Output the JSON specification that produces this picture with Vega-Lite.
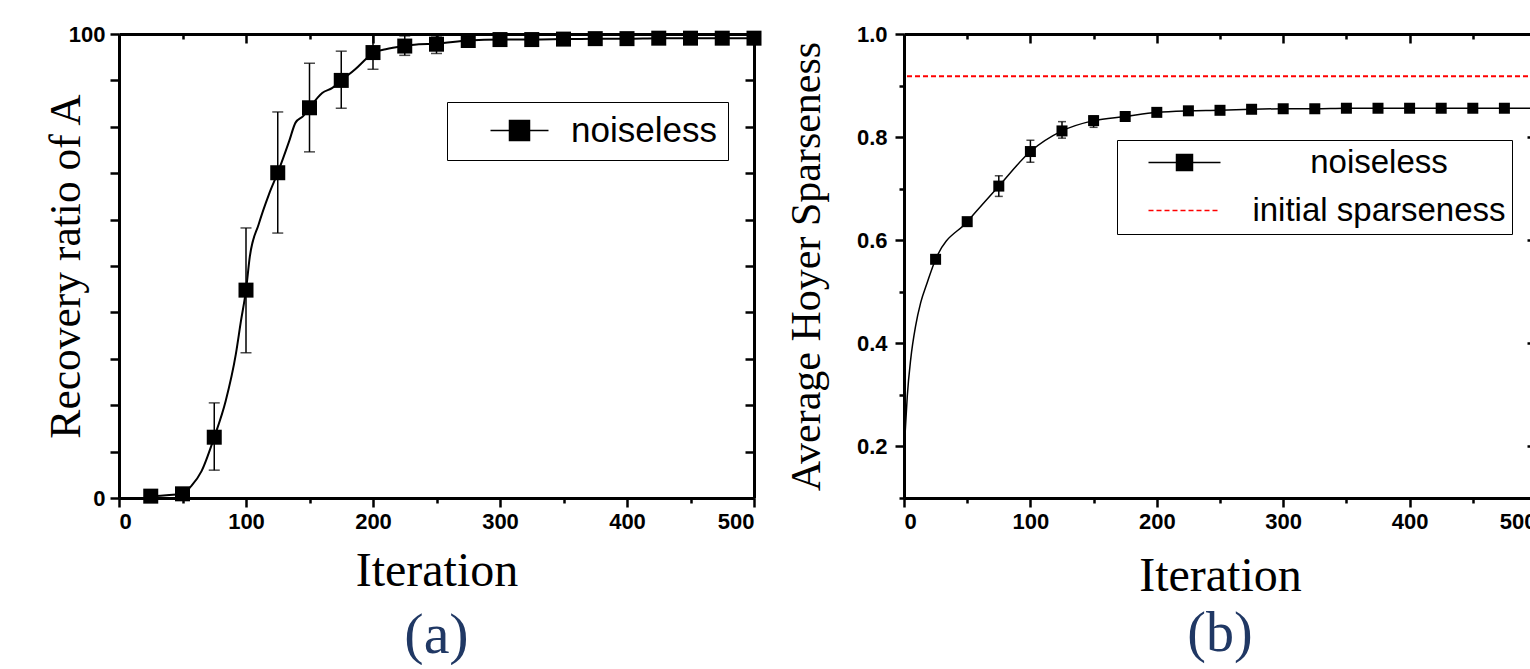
{
  "$schema": "https://vega.github.io/schema/vega-lite/v6.json",
  "background": "white",
  "padding": {"left": 44, "top": 23, "right": 0, "bottom": 0},
  "spacing": 23,
  "resolve": {"scale": {"shape": "independent", "stroke": "independent"}, "legend": {"shape": "independent", "stroke": "independent"}},
  "config": {
    "view": {"stroke": null},
    "axis": {
      "grid": false,
      "domainColor": "black",
      "domainWidth": 3,
      "tickColor": "black",
      "tickWidth": 2.5,
      "labelFont": "Liberation Sans",
      "labelFontWeight": "bold",
      "labelFontSize": 22,
      "labelColor": "black",
      "titleFont": "Liberation Serif",
      "titleFontWeight": "normal",
      "titleColor": "black"
    }
  },
  "datasets": {
    "a_pts": [
      {"it": 25, "val": 0.4}, {"it": 50, "val": 0.9}, {"it": 75, "val": 13.1}, {"it": 100, "val": 44.8},
      {"it": 125, "val": 70.1}, {"it": 150, "val": 84.1}, {"it": 175, "val": 90.0}, {"it": 200, "val": 96.0},
      {"it": 225, "val": 97.4}, {"it": 250, "val": 97.8}, {"it": 275, "val": 98.6}, {"it": 300, "val": 98.8},
      {"it": 325, "val": 98.8}, {"it": 350, "val": 98.9}, {"it": 375, "val": 99.0}, {"it": 400, "val": 99.0},
      {"it": 425, "val": 99.1}, {"it": 450, "val": 99.1}, {"it": 475, "val": 99.1}, {"it": 500, "val": 99.1}
    ],
    "a_err": [
      {"it": 75, "lo": 6.0, "hi": 20.5}, {"it": 100, "lo": 31.3, "hi": 58.2}, {"it": 125, "lo": 57.1, "hi": 83.2},
      {"it": 150, "lo": 74.6, "hi": 93.7}, {"it": 175, "lo": 84.0, "hi": 96.3}, {"it": 200, "lo": 92.4, "hi": 99.8},
      {"it": 225, "lo": 95.4, "hi": 99.6}, {"it": 250, "lo": 95.8, "hi": 99.6}
    ],
    "a_curve": [
      {"it": 25, "val": 0.4}, {"it": 50, "val": 0.9}, {"it": 57, "val": 2.6}, {"it": 65, "val": 5.8},
      {"it": 75, "val": 13.1}, {"it": 84, "val": 20.9}, {"it": 92, "val": 31.0}, {"it": 96, "val": 38.1},
      {"it": 100, "val": 44.8}, {"it": 103, "val": 52.0}, {"it": 110, "val": 59.0}, {"it": 118, "val": 65.4},
      {"it": 125, "val": 70.1}, {"it": 134, "val": 76.9}, {"it": 139, "val": 80.9}, {"it": 145, "val": 82.3},
      {"it": 150, "val": 84.1}, {"it": 160, "val": 87.3}, {"it": 168, "val": 88.4}, {"it": 175, "val": 90.0},
      {"it": 186, "val": 92.4}, {"it": 194, "val": 94.5}, {"it": 200, "val": 96.0}, {"it": 210, "val": 96.7},
      {"it": 225, "val": 97.4}, {"it": 236, "val": 97.8}, {"it": 250, "val": 97.9}, {"it": 275, "val": 98.6},
      {"it": 300, "val": 98.8}, {"it": 325, "val": 98.8}, {"it": 350, "val": 98.9}, {"it": 375, "val": 99.0},
      {"it": 400, "val": 99.0}, {"it": 425, "val": 99.1}, {"it": 450, "val": 99.1}, {"it": 475, "val": 99.1},
      {"it": 500, "val": 99.1}
    ],
    "a_legend": [{"series": "noiseless"}],
    "b_pts": [
      {"it": 25, "val": 0.563}, {"it": 50, "val": 0.636}, {"it": 75, "val": 0.705}, {"it": 100, "val": 0.772},
      {"it": 125, "val": 0.812}, {"it": 150, "val": 0.832}, {"it": 175, "val": 0.840}, {"it": 200, "val": 0.848},
      {"it": 225, "val": 0.851}, {"it": 250, "val": 0.852}, {"it": 275, "val": 0.854}, {"it": 300, "val": 0.855},
      {"it": 325, "val": 0.855}, {"it": 350, "val": 0.856}, {"it": 375, "val": 0.856}, {"it": 400, "val": 0.856},
      {"it": 425, "val": 0.856}, {"it": 450, "val": 0.856}, {"it": 475, "val": 0.856}, {"it": 500, "val": 0.856}
    ],
    "b_err": [
      {"it": 75, "lo": 0.685, "hi": 0.725}, {"it": 100, "lo": 0.751, "hi": 0.794},
      {"it": 125, "lo": 0.798, "hi": 0.830}, {"it": 150, "lo": 0.819, "hi": 0.841}
    ],
    "b_curve": [
      {"it": 1, "val": 0.23}, {"it": 2.6, "val": 0.298}, {"it": 5.3, "val": 0.369}, {"it": 9.2, "val": 0.434},
      {"it": 13.2, "val": 0.479}, {"it": 18.4, "val": 0.518}, {"it": 25, "val": 0.563}, {"it": 50, "val": 0.636},
      {"it": 75, "val": 0.705}, {"it": 100, "val": 0.772}, {"it": 125, "val": 0.812}, {"it": 150, "val": 0.832},
      {"it": 175, "val": 0.840}, {"it": 200, "val": 0.848}, {"it": 225, "val": 0.851}, {"it": 250, "val": 0.852},
      {"it": 275, "val": 0.854}, {"it": 300, "val": 0.855}, {"it": 325, "val": 0.855}, {"it": 350, "val": 0.856},
      {"it": 375, "val": 0.856}, {"it": 400, "val": 0.856}, {"it": 425, "val": 0.856}, {"it": 450, "val": 0.856},
      {"it": 475, "val": 0.856}, {"it": 500, "val": 0.856}
    ],
    "b_init": [{"series": "initial sparseness", "val": 0.918}],
    "b_legend": [{"series": "noiseless"}, {"series": "initial sparseness"}]
  },
  "hconcat": [
    {
      "width": 635,
      "height": 464,
      "title": {"text": "(a)", "orient": "bottom", "font": "Liberation Serif", "fontSize": 58, "fontWeight": "normal", "color": "#203864", "offset": 12},
      "layer": [
        {
          "data": {"name": "a_curve"},
          "mark": {"type": "line", "interpolate": "monotone", "color": "black", "strokeWidth": 2},
          "encoding": {
            "x": {"field": "it", "type": "quantitative", "scale": {"domain": [0, 500], "nice": false},
              "axis": {"orient": "top", "title": null, "labels": false, "values": [0, 50, 100, 150, 200, 250, 300, 350, 400, 450, 500],
                "tickSize": {"condition": {"test": "datum.value % 100 === 0", "value": -9}, "value": -5}}},
            "y": {"field": "val", "type": "quantitative", "scale": {"domain": [0, 100], "nice": false, "zero": false},
              "axis": {"orient": "right", "title": null, "labels": false, "values": [0, 10, 20, 30, 40, 50, 60, 70, 80, 90, 100], "tickSize": -9}}
          }
        },
        {
          "data": {"name": "a_err"},
          "mark": {"type": "rule", "color": "black", "strokeWidth": 1.5},
          "encoding": {
            "x": {"field": "it", "type": "quantitative", "scale": {"domain": [0, 500], "nice": false}, "axis": null},
            "y": {"field": "lo", "type": "quantitative", "scale": {"domain": [0, 100], "nice": false, "zero": false}, "axis": null},
            "y2": {"field": "hi"}
          }
        },
        {
          "data": {"name": "a_err"},
          "mark": {"type": "tick", "orient": "horizontal", "size": 11, "thickness": 1.5, "color": "black"},
          "encoding": {
            "x": {"field": "it", "type": "quantitative", "scale": {"domain": [0, 500], "nice": false}, "axis": null},
            "y": {"field": "lo", "type": "quantitative", "scale": {"domain": [0, 100], "nice": false, "zero": false}, "axis": null}
          }
        },
        {
          "data": {"name": "a_err"},
          "mark": {"type": "tick", "orient": "horizontal", "size": 11, "thickness": 1.5, "color": "black"},
          "encoding": {
            "x": {"field": "it", "type": "quantitative", "scale": {"domain": [0, 500], "nice": false}, "axis": null},
            "y": {"field": "hi", "type": "quantitative", "scale": {"domain": [0, 100], "nice": false, "zero": false}, "axis": null}
          }
        },
        {
          "data": {"name": "a_pts"},
          "mark": {"type": "point", "shape": "square", "filled": true, "size": 225, "color": "black", "opacity": 1},
          "encoding": {
            "x": {"field": "it", "type": "quantitative", "scale": {"domain": [0, 500], "nice": false},
              "axis": {"orient": "bottom", "title": "Iteration", "titleFontSize": 48, "titlePadding": 15,
                "values": [0, 50, 100, 150, 200, 250, 300, 350, 400, 450, 500],
                "labelExpr": "datum.value % 100 === 0 ? datum.label : ''", "labelPadding": 4,
                "tickSize": {"condition": {"test": "datum.value % 100 === 0", "value": 9}, "value": 5}}},
            "y": {"field": "val", "type": "quantitative", "scale": {"domain": [0, 100], "nice": false, "zero": false},
              "axis": {"orient": "left", "title": "Recovery ratio of A", "titleFontSize": 43.5, "titlePadding": -20,
                "values": [0, 10, 20, 30, 40, 50, 60, 70, 80, 90, 100],
                "labelExpr": "(datum.value === 0 || datum.value === 100) ? datum.label : ''",
                "tickSize": 9, "labelPadding": 5}}
          }
        },
        {
          "data": {"name": "a_legend"},
          "transform": [{"filter": "false"}],
          "mark": {"type": "point", "filled": false, "fill": "black", "stroke": "black", "strokeWidth": 1.5, "size": 900, "opacity": 1},
          "encoding": {
            "shape": {"field": "series", "type": "nominal",
              "scale": {"domain": ["noiseless"], "range": ["M-1.933,0H1.933M-0.667,-0.667H0.667V0.667H-0.667Z"]},
              "legend": {"title": null, "orient": "none", "legendX": 328, "legendY": 68, "strokeColor": "black", "fillColor": "white",
                "padding": 11, "symbolOffset": 44, "labelOffset": 34, "labelFont": "Liberation Sans", "labelFontSize": 35,
                "labelFontWeight": "normal", "labelColor": "black", "symbolSize": 900, "symbolStrokeWidth": 1.5, "labelLimit": 0,
                "encode": {
                  "legend": {"strokeWidth": {"value": 1.5}},
                  "symbols": {"stroke": {"value": "black"}, "fill": {"value": "black"}, "strokeWidth": {"value": 1.5}}
                }}}
          }
        }
      ]
    },
    {
      "width": 632,
      "height": 464,
      "title": {"text": "(b)", "orient": "bottom", "font": "Liberation Serif", "fontSize": 56, "fontWeight": "normal", "color": "#203864", "offset": 7},
      "layer": [
        {
          "data": {"name": "b_init"},
          "mark": {"type": "rule", "color": "#ff0000", "strokeWidth": 2, "strokeDash": [5, 3]},
          "encoding": {
            "y": {"field": "val", "type": "quantitative", "scale": {"domain": [0.1, 1.0], "nice": false, "zero": false}, "axis": null}
          }
        },
        {
          "data": {"name": "b_curve"},
          "mark": {"type": "line", "interpolate": "monotone", "color": "black", "strokeWidth": 1.5},
          "encoding": {
            "x": {"field": "it", "type": "quantitative", "scale": {"domain": [0, 500], "nice": false},
              "axis": {"orient": "top", "title": null, "labels": false, "values": [0, 50, 100, 150, 200, 250, 300, 350, 400, 450, 500],
                "tickSize": {"condition": {"test": "datum.value % 100 === 0", "value": -9}, "value": -5}}},
            "y": {"field": "val", "type": "quantitative", "scale": {"domain": [0.1, 1.0], "nice": false, "zero": false},
              "axis": {"orient": "right", "title": null, "labels": false, "values": [0.2, 0.4, 0.6, 0.8, 1.0], "tickSize": -9}}
          }
        },
        {
          "data": {"name": "b_err"},
          "mark": {"type": "rule", "color": "black", "strokeWidth": 1.5},
          "encoding": {
            "x": {"field": "it", "type": "quantitative", "scale": {"domain": [0, 500], "nice": false}, "axis": null},
            "y": {"field": "lo", "type": "quantitative", "scale": {"domain": [0.1, 1.0], "nice": false, "zero": false}, "axis": null},
            "y2": {"field": "hi"}
          }
        },
        {
          "data": {"name": "b_err"},
          "mark": {"type": "tick", "orient": "horizontal", "size": 8, "thickness": 1.5, "color": "black"},
          "encoding": {
            "x": {"field": "it", "type": "quantitative", "scale": {"domain": [0, 500], "nice": false}, "axis": null},
            "y": {"field": "lo", "type": "quantitative", "scale": {"domain": [0.1, 1.0], "nice": false, "zero": false}, "axis": null}
          }
        },
        {
          "data": {"name": "b_err"},
          "mark": {"type": "tick", "orient": "horizontal", "size": 8, "thickness": 1.5, "color": "black"},
          "encoding": {
            "x": {"field": "it", "type": "quantitative", "scale": {"domain": [0, 500], "nice": false}, "axis": null},
            "y": {"field": "hi", "type": "quantitative", "scale": {"domain": [0.1, 1.0], "nice": false, "zero": false}, "axis": null}
          }
        },
        {
          "data": {"name": "b_pts"},
          "mark": {"type": "point", "shape": "square", "filled": true, "size": 121, "color": "black", "opacity": 1},
          "encoding": {
            "x": {"field": "it", "type": "quantitative", "scale": {"domain": [0, 500], "nice": false},
              "axis": {"orient": "bottom", "title": "Iteration", "titleFontSize": 48, "titlePadding": 20,
                "values": [0, 50, 100, 150, 200, 250, 300, 350, 400, 450, 500],
                "labelExpr": "datum.value % 100 === 0 ? datum.label : ''", "labelPadding": 4,
                "tickSize": {"condition": {"test": "datum.value % 100 === 0", "value": 9}, "value": 5}}},
            "y": {"field": "val", "type": "quantitative", "scale": {"domain": [0.1, 1.0], "nice": false, "zero": false},
              "axis": {"orient": "left", "title": "Average Hoyer Sparseness", "titleFontSize": 42, "titlePadding": 28,
                "values": [0.1, 0.2, 0.3, 0.4, 0.5, 0.6, 0.7, 0.8, 0.9, 1.0],
                "labelExpr": "abs(round(datum.value * 10) % 2) === 0 ? format(datum.value, '.1f') : ''",
                "tickSize": {"condition": {"test": "abs(round(datum.value * 10) % 2) === 0", "value": 9}, "value": 5},
                "labelPadding": 8}}
          }
        },
        {
          "data": {"name": "b_legend"},
          "transform": [{"filter": "false"}],
          "mark": {"type": "point", "filled": false, "fill": "black", "strokeWidth": 1.5, "size": 900, "opacity": 1},
          "encoding": {
            "shape": {"field": "series", "type": "nominal",
              "scale": {"domain": ["noiseless", "initial sparseness"],
                "range": ["M-2.4,0H2.4M-0.533,-0.533H0.533V0.533H-0.533Z",
                  "M-2.4,0H-2.067M-1.867,0H-1.533M-1.333,0H-1M-0.8,0H-0.467M-0.267,0H0.067M0.267,0H0.6M0.8,0H1.133M1.333,0H1.667M1.867,0H2.2"]},
              "legend": {"title": null, "orient": "none", "legendX": 213, "legendY": 106, "strokeColor": "black", "fillColor": "white",
                "padding": 6, "rowPadding": 14, "symbolOffset": 45, "labelOffset": 178, "labelAlign": "center",
                "labelFont": "Liberation Sans", "labelFontSize": 33, "labelFontWeight": "normal", "labelColor": "black",
                "symbolSize": 900, "symbolStrokeWidth": 1.5, "symbolStrokeColor": "black", "labelLimit": 0,
                "encode": {
                  "legend": {"strokeWidth": {"value": 1.5}},
                  "symbols": {"fill": {"value": "black"}, "strokeWidth": {"value": 1.5}}
                }}},
            "stroke": {"field": "series", "type": "nominal",
              "scale": {"domain": ["noiseless", "initial sparseness"], "range": ["black", "#ff0000"]},
              "legend": {"title": null, "orient": "none", "legendX": 213, "legendY": 106, "strokeColor": "black", "fillColor": "white",
                "padding": 6, "rowPadding": 14, "symbolOffset": 45, "labelOffset": 178, "labelAlign": "center",
                "labelFont": "Liberation Sans", "labelFontSize": 33, "labelFontWeight": "normal", "labelColor": "black",
                "symbolSize": 900, "symbolStrokeWidth": 1.5, "symbolStrokeColor": "black", "labelLimit": 0,
                "encode": {
                  "legend": {"strokeWidth": {"value": 1.5}},
                  "symbols": {"fill": {"value": "black"}, "strokeWidth": {"value": 1.5}}
                }}}
          }
        }
      ]
    }
  ]
}
